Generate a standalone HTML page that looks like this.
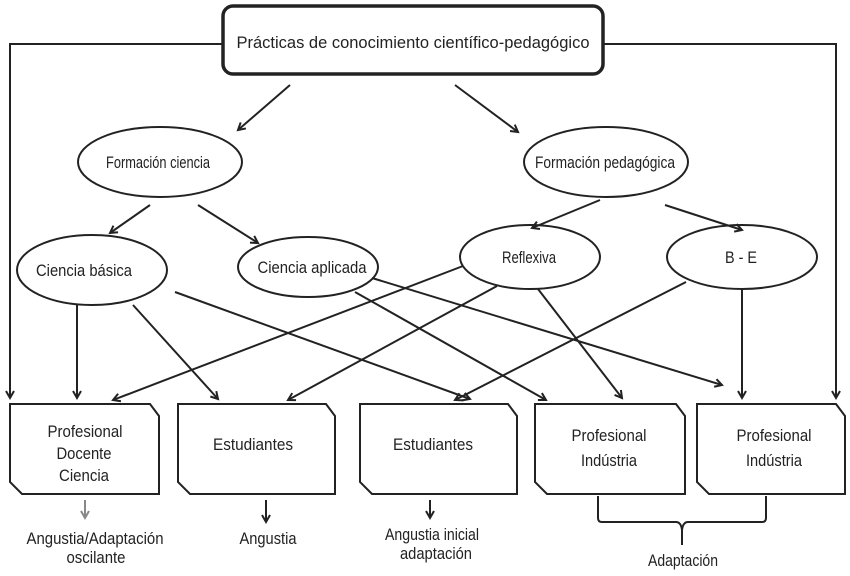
<!DOCTYPE html>
<html><head><meta charset="utf-8"><style>
body{margin:0;background:#fff;width:850px;height:571px;overflow:hidden}
svg text{font-family:"Liberation Sans",sans-serif;font-size:17px;fill:#222;text-anchor:middle}
</style></head><body>
<svg width="850" height="571" viewBox="0 0 850 571" xmlns="http://www.w3.org/2000/svg">
<defs><marker id="a" markerWidth="10" markerHeight="10" refX="8" refY="5" orient="auto" markerUnits="userSpaceOnUse"><path d="M1,1 L8,5 L1,9" fill="none" stroke="#222" stroke-width="2"/></marker>
<marker id="g" markerWidth="10" markerHeight="10" refX="8" refY="5" orient="auto" markerUnits="userSpaceOnUse"><path d="M1,1 L8,5 L1,9" fill="none" stroke="#888" stroke-width="2"/></marker></defs>
<g stroke="#222" stroke-width="2" fill="none">
<rect x="223" y="6" width="380" height="68" rx="10" stroke-width="3.5"/>
<polyline points="223,44 10,44 10,398" marker-end="url(#a)"/>
<polyline points="603,44 836,44 836,398" marker-end="url(#a)"/>
<line x1="290" y1="85" x2="238" y2="130" marker-end="url(#a)"/>
<line x1="455" y1="85" x2="518" y2="132" marker-end="url(#a)"/>
<ellipse cx="160" cy="162" rx="82" ry="35"/>
<ellipse cx="606" cy="162" rx="82" ry="35"/>
<line x1="150" y1="205" x2="110" y2="233" marker-end="url(#a)"/>
<line x1="198" y1="205" x2="258" y2="243" marker-end="url(#a)"/>
<line x1="600" y1="200" x2="532" y2="228" marker-end="url(#a)"/>
<line x1="665" y1="205" x2="742" y2="230" marker-end="url(#a)"/>
<ellipse cx="92" cy="270" rx="75" ry="35"/>
<ellipse cx="308" cy="267" rx="70" ry="30"/>
<ellipse cx="530" cy="257" rx="70" ry="32"/>
<ellipse cx="742" cy="257" rx="75" ry="32"/>
<line x1="77" y1="305" x2="77" y2="398" marker-end="url(#a)"/>
<line x1="133" y1="305" x2="218" y2="399" marker-end="url(#a)"/>
<line x1="175" y1="292" x2="470" y2="399" marker-end="url(#a)"/>
<line x1="355" y1="292" x2="546" y2="400" marker-end="url(#a)"/>
<line x1="372" y1="278" x2="722" y2="385" marker-end="url(#a)"/>
<line x1="463" y1="266" x2="113" y2="400" marker-end="url(#a)"/>
<line x1="497" y1="286" x2="288" y2="400" marker-end="url(#a)"/>
<line x1="538" y1="289" x2="622" y2="398" marker-end="url(#a)"/>
<line x1="686" y1="282" x2="455" y2="400" marker-end="url(#a)"/>
<line x1="742" y1="290" x2="742" y2="398" marker-end="url(#a)"/>
<path d="M10,404 L150,404 L159,416 L159,494 L22,494 L10,482 Z"/>
<path d="M178,404 L326,404 L335,416 L335,494 L190,494 L178,482 Z"/>
<path d="M360,404 L508,404 L517,416 L517,494 L372,494 L360,482 Z"/>
<path d="M535,404 L676,404 L685,416 L685,494 L547,494 L535,482 Z"/>
<path d="M697,404 L836,404 L845,416 L845,494 L709,494 L697,482 Z"/>
<line x1="85" y1="500" x2="85" y2="518" stroke="#888" marker-end="url(#g)"/>
<line x1="266" y1="500" x2="266" y2="522" marker-end="url(#a)"/>
<line x1="430" y1="500" x2="430" y2="518" marker-end="url(#a)"/>
<path d="M598,496 L598,518 Q598,522 602,522 L676,522 Q681,522 682,530 L682,545 M682,530 Q683,522 688,522 L762,522 Q766,522 766,518 L766,496"/>
</g>
<g>
<text x="413" y="48" textLength="353" lengthAdjust="spacingAndGlyphs">Prácticas de conocimiento científico-pedagógico</text>
<text x="158" y="168" textLength="104" lengthAdjust="spacingAndGlyphs">Formación ciencia</text>
<text x="605" y="168" textLength="140" lengthAdjust="spacingAndGlyphs">Formación pedagógica</text>
<text x="84" y="276" textLength="96" lengthAdjust="spacingAndGlyphs">Ciencia básica</text>
<text x="312" y="273" textLength="109" lengthAdjust="spacingAndGlyphs">Ciencia aplicada</text>
<text x="529" y="263" textLength="54" lengthAdjust="spacingAndGlyphs">Reflexiva</text>
<text x="741" y="263" textLength="32" lengthAdjust="spacingAndGlyphs">B - E</text>
<text x="85" y="437" textLength="75" lengthAdjust="spacingAndGlyphs">Profesional</text>
<text x="84" y="459" textLength="55" lengthAdjust="spacingAndGlyphs">Docente</text>
<text x="84" y="481" textLength="50" lengthAdjust="spacingAndGlyphs">Ciencia</text>
<text x="253" y="450" textLength="80" lengthAdjust="spacingAndGlyphs">Estudiantes</text>
<text x="433" y="450" textLength="80" lengthAdjust="spacingAndGlyphs">Estudiantes</text>
<text x="609" y="441" textLength="75" lengthAdjust="spacingAndGlyphs">Profesional</text>
<text x="609" y="466" textLength="56" lengthAdjust="spacingAndGlyphs">Indústria</text>
<text x="774" y="441" textLength="75" lengthAdjust="spacingAndGlyphs">Profesional</text>
<text x="774" y="466" textLength="56" lengthAdjust="spacingAndGlyphs">Indústria</text>
<text x="95" y="544" textLength="137" lengthAdjust="spacingAndGlyphs">Angustia/Adaptación</text>
<text x="96" y="563" textLength="59" lengthAdjust="spacingAndGlyphs">oscilante</text>
<text x="268" y="544" textLength="57" lengthAdjust="spacingAndGlyphs">Angustia</text>
<text x="432" y="540" textLength="94" lengthAdjust="spacingAndGlyphs">Angustia inicial</text>
<text x="436" y="559" textLength="72" lengthAdjust="spacingAndGlyphs">adaptación</text>
<text x="683" y="566" textLength="70" lengthAdjust="spacingAndGlyphs">Adaptación</text>
</g>
</svg>
</body></html>
